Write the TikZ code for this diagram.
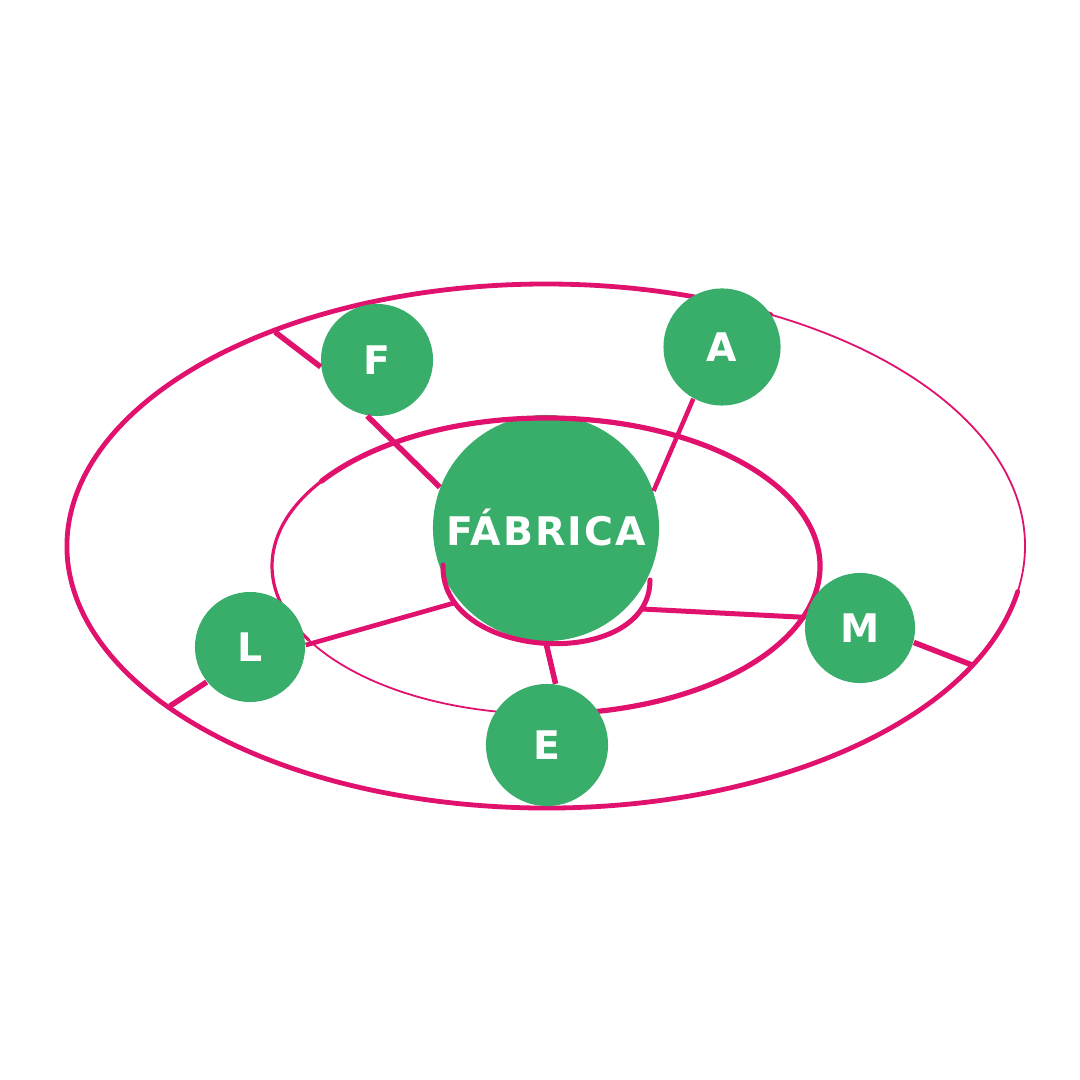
\documentclass[tikz,border=0pt]{standalone}
\usepackage{fontspec}
\newfontfamily\lblfont{DejaVu Sans}[LetterSpace=5]
\definecolor{ringpink}{HTML}{E0126E}
\definecolor{blobgreen}{HTML}{38AE6A}
\tikzset{
  blob/.style={circle, fill=blobgreen, inner sep=0pt, text=white,
    font=\lblfont\bfseries\fontsize{11.2}{13}\selectfont},
  ring/.style={draw=ringpink, line width=0.048cm, line cap=round},
  thinring/.style={draw=ringpink, line width=0.018cm, line cap=round},
  link/.style={draw=ringpink, line width=0.055cm},
}
\begin{document}
\begin{tikzpicture}[x=0.01cm, y=-0.01cm]
\useasboundingbox (0,0) rectangle (1080,1080);
\fill[white] (0,0) rectangle (1080,1080);
\draw[ring] (546,546) ++(10:479 and 262) arc[start angle=10, end angle=298, x radius=479, y radius=262];
\draw[thinring] (546,546) ++(298:479 and 262) arc[start angle=298, end angle=370, x radius=479, y radius=262];
\node[blob, minimum size=2.26cm] (fab) at (546,528) {FÁBRICA};
\draw[ring, line width=0.052cm] (546,566) ++(215:274 and 148) arc[start angle=215, end angle=455, x radius=274, y radius=148];
\draw[ring, line width=0.032cm] (546,566) ++(150:274 and 148) arc[start angle=150, end angle=218, x radius=274, y radius=148];
\draw[thinring] (546,566) ++(95:274 and 148) arc[start angle=95, end angle=152, x radius=274, y radius=148];
\draw[ring, line width=0.05cm] (443,565) .. controls (440,662) and (650,672) .. (650,580);
\node[blob, minimum size=1.12cm] (F) at (377,360) {F};
\node[blob, minimum size=1.17cm] (A) at (722,347) {A};
\node[blob, minimum size=1.1cm] (L) at (250,647) {L};
\node[blob, minimum size=1.22cm] (E) at (547,745) {E};
\node[blob, minimum size=1.1cm] (M) at (860,628) {M};
\coordinate (oF) at (275,332);
\coordinate (oL) at (170,706);
\coordinate (oM) at (972,665);
\coordinate (sL) at (454,603);
\coordinate (sE) at (546,643);
\coordinate (sM) at (642,609);
\draw[link] (F.187) -- (oF);
\draw[link] (F.-100) -- (fab.159);
\draw[link, line width=0.045cm] (A.-119) -- (fab.19);
\draw[link, line width=0.047cm] (L.2) -- (sL);
\draw[link] (L.-141) -- (oL);
\draw[link] (E.82) -- (sE);
\draw[link, line width=0.05cm] (M.169) -- (sM);
\draw[link] (M.-15) -- (oM);
\end{tikzpicture}
\end{document}
